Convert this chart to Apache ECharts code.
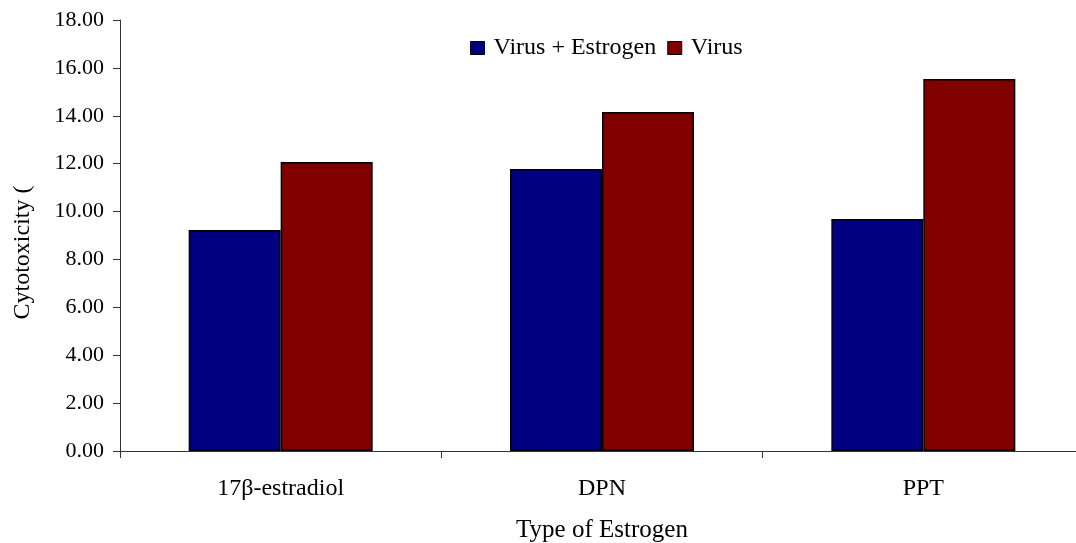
<!DOCTYPE html>
<html><head><meta charset="utf-8">
<script src="https://cdn.jsdelivr.net/npm/echarts@6/dist/echarts.min.js"></script>
<style>html,body{margin:0;padding:0;background:#fff}#c{width:1076px;height:543px}</style>
</head><body><div id="c"></div>
<script>
const categories = ['17β-estradiol', 'DPN', 'PPT'];
const virusEstrogen = [9.23, 11.78, 9.69];
const virus = [12.07, 14.16, 15.54];
const seriesNames = ['Virus + Estrogen', 'Virus'];
const font = 'Liberation Serif, Times New Roman, serif';
const chart = echarts.init(document.getElementById('c'));
chart.setOption({
  animation: false,
  backgroundColor: '#fff',
  textStyle: { fontFamily: font, color: '#000' },
  legend: {
    top: 36, left: 470, padding: 0, itemWidth: 14, itemHeight: 13, itemGap: 11,
    textStyle: { fontFamily: font, fontSize: 24, color: '#000', padding: [0,0,0,4] },
    data: seriesNames.map(n => ({ name: n, icon: 'rect', itemStyle: { borderColor: '#000', borderWidth: 1 } }))
  },
  grid: { left: 120, width: 964, top: 20, bottom: 92, containLabel: false, outerBoundsMode: 'none' },
  xAxis: {
    type: 'category', data: categories,
    name: 'Type of Estrogen', nameLocation: 'middle', nameGap: 67,
    nameTextStyle: { fontFamily: font, fontSize: 25, color: '#000' },
    axisLine: { lineStyle: { color: '#333', width: 1 } },
    axisTick: { show: true, length: 7, lineStyle: { color: '#333' } },
    axisLabel: { fontFamily: font, fontSize: 24, color: '#000', margin: 26 }
  },
  yAxis: {
    type: 'value', min: 0, max: 18, interval: 2,
    name: 'Cytotoxicity (', nameLocation: 'middle', nameGap: 85, nameRotate: 90,
    nameTextStyle: { fontFamily: font, fontSize: 24, color: '#000', padding: [0, 34, 0, 0] },
    axisLine: { show: true, lineStyle: { color: '#333', width: 1 } },
    axisTick: { show: true, length: 7, lineStyle: { color: '#333' } },
    splitLine: { show: false },
    axisLabel: { fontFamily: font, fontSize: 22, color: '#000', margin: 16, formatter: v => v.toFixed(2) }
  },
  series: [
    { name: seriesNames[0], type: 'bar', data: virusEstrogen, barWidth: 92, barGap: '0%',
      itemStyle: { color: '#000080', borderColor: '#000', borderWidth: 1.5 } },
    { name: seriesNames[1], type: 'bar', data: virus, barWidth: 92, barGap: '0%',
      itemStyle: { color: '#800000', borderColor: '#000', borderWidth: 1.5 } }
  ]
});
</script></body></html>
